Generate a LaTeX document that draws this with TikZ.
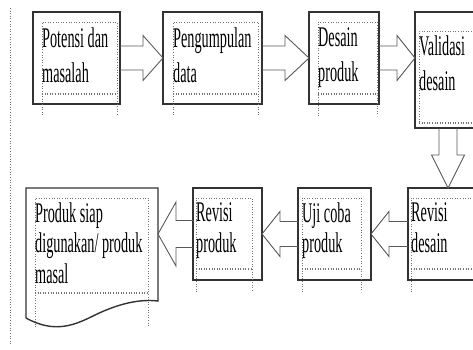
\documentclass[tikz,border=0pt]{standalone}
\usepackage{fontspec}
\setmainfont[FakeStretch=0.5]{Liberation Serif}
\usetikzlibrary{calc}

\tikzset{
  outerbox/.style={draw=black!80, line width=1.4pt, outer sep=0pt, inner sep=0pt, anchor=north west},
  plainbox/.style={outer sep=0pt, inner sep=0pt, anchor=north west},
  blockarr/.style={draw=black!65, line width=0.9pt},
  innerframe/.style={draw=black!55, dotted, line width=0.6pt},
  rowone/.style={anchor=north west, inner sep=0pt, align=left, font=\fontsize{28.5}{35}\selectfont},
  rowtwo/.style={anchor=north west, inner sep=0pt, align=left, font=\fontsize{28.5}{30.5}\selectfont}
}

\begin{document}
\begin{tikzpicture}[x=1pt, y=-1pt]
  \useasboundingbox (0,0) rectangle (473,349);
  \clip (0,0) rectangle (473,349);

  % left margin line
  \draw[innerframe] (10,8) -- (10,345);

  % outer boxes, first row
  \node[outerbox, minimum width=87pt, minimum height=92pt] (Potensi) at (33,12) {};
  \node[outerbox, minimum width=99pt, minimum height=92pt] (Pengumpulan) at (163,12) {};
  \node[outerbox, minimum width=70pt, minimum height=92pt] (Desain) at (309,12) {};
  \node[outerbox, minimum width=75pt, minimum height=116pt] (Validasi) at (415,12) {};

  % outer boxes, second row
  \node[outerbox, minimum width=82pt, minimum height=92pt] (RevisiDesain) at (408,188) {};
  \node[outerbox, minimum width=73pt, minimum height=92pt] (UjiCoba) at (298,188) {};
  \node[outerbox, minimum width=69pt, minimum height=92pt] (RevisiProduk) at (193,188) {};
  \node[plainbox, minimum width=132pt, minimum height=92pt] (Produk) at (26,188) {};

  % document shape of the last box
  \draw[black!80, line width=1.4pt] ($(Produk.south west)+(0,38)$) -- (Produk.north west)
    -- (Produk.north east) -- ($(Produk.north east)+(0,113)$)
    .. controls (140,299) and (120,303) .. (95,315)
    .. controls (75,325) and (55,334) .. ($(Produk.south west)+(0,38)$);

  % dotted inner frames
  \foreach \xl/\xr/\yt/\yb/\ye in {42/117/22/93/115, 173/258/22/93/115, 318/377/22/93/116,
      419/490/31/122/122, 411/490/198/268/292, 302/361/198/268/292, 196/252/198/268/292,
      35/148/198/292/327}
  {
    \draw[innerframe] (\xl,\ye) -- (\xl,\yt) -- (\xr,\yt) -- (\xr,\ye);
    \draw[innerframe] (\xl,\yb) -- (\xr,\yb) (\xl,\yb+1.6) -- (\xr,\yb+1.6);
  }

  % texts
  \node[rowone] (PotensiText) at (42,27.5) {Potensi dan\\masalah};
  \node[rowone] (PengumpulanText) at (173,27.5) {Pengumpulan\\data};
  \node[rowone] (DesainText) at (318,27.5) {Desain\\produk};
  \node[rowone] (ValidasiText) at (419,35.5) {Validasi\\desain};
  \node[rowtwo] (RevisiDesainText) at (411,202.5) {Revisi\\desain};
  \node[rowtwo] (UjiCobaText) at (302,202.5) {Uji coba\\produk};
  \node[rowtwo] (RevisiProdukText) at (196,202.5) {Revisi\\produk};
  \node[rowtwo] (ProdukText) at (35,202.5) {Produk siap\\digunakan/ produk\\masal};

  % block arrows, first row
  \draw[blockarr] ($(Potensi.east)+(0,-12)$) -- ($(Pengumpulan.west)+(-20,-12)$)
    -- ($(Pengumpulan.west)+(-20,-22.5)$) -- (Pengumpulan.west)
    -- ($(Pengumpulan.west)+(-20,22.5)$) -- ($(Pengumpulan.west)+(-20,12)$)
    -- ($(Potensi.east)+(0,12)$);
  \draw[blockarr] ($(Pengumpulan.east)+(0,-12)$) -- ($(Desain.west)+(-24,-12)$)
    -- ($(Desain.west)+(-24,-22.5)$) -- (Desain.west)
    -- ($(Desain.west)+(-24,22.5)$) -- ($(Desain.west)+(-24,12)$)
    -- ($(Pengumpulan.east)+(0,12)$);
  \coordinate (ValidasiTip) at (Desain.east -| Validasi.west);
  \draw[blockarr] ($(Desain.east)+(0,-12)$) -- ($(ValidasiTip)+(-18,-12)$)
    -- ($(ValidasiTip)+(-18,-22.5)$) -- (ValidasiTip)
    -- ($(ValidasiTip)+(-18,22.5)$) -- ($(ValidasiTip)+(-18,12)$)
    -- ($(Desain.east)+(0,12)$);

  % block arrow down
  \coordinate (DownTip) at ($(RevisiDesain.north west)+(40,0)$);
  \draw[blockarr] ($(DownTip |- Validasi.south)+(-9,0)$) -- ($(DownTip)+(-9,-33)$)
    -- ($(DownTip)+(-16.5,-33)$) -- (DownTip)
    -- ($(DownTip)+(16.5,-33)$) -- ($(DownTip)+(9,-33)$)
    -- ($(DownTip |- Validasi.south)+(9,0)$);

  % block arrows, second row
  \draw[blockarr] ($(RevisiDesain.west)+(0,-12.5)$) -- ($(UjiCoba.east)+(18,-12.5)$)
    -- ($(UjiCoba.east)+(18,-22.5)$) -- (UjiCoba.east)
    -- ($(UjiCoba.east)+(18,22.5)$) -- ($(UjiCoba.east)+(18,12.5)$)
    -- ($(RevisiDesain.west)+(0,12.5)$);
  \draw[blockarr] ($(UjiCoba.west)+(0,-12.5)$) -- ($(RevisiProduk.east)+(18,-12.5)$)
    -- ($(RevisiProduk.east)+(18,-22.5)$) -- (RevisiProduk.east)
    -- ($(RevisiProduk.east)+(18,22.5)$) -- ($(RevisiProduk.east)+(18,12.5)$)
    -- ($(UjiCoba.west)+(0,12.5)$);
  \draw[blockarr] ($(RevisiProduk.west)+(0,-13.5)$) -- ($(Produk.east)+(18,-13.5)$)
    -- ($(Produk.east)+(18,-32)$) -- (Produk.east)
    -- ($(Produk.east)+(18,32)$) -- ($(Produk.east)+(18,13.5)$)
    -- ($(RevisiProduk.west)+(0,13.5)$);

\end{tikzpicture}
\end{document}
